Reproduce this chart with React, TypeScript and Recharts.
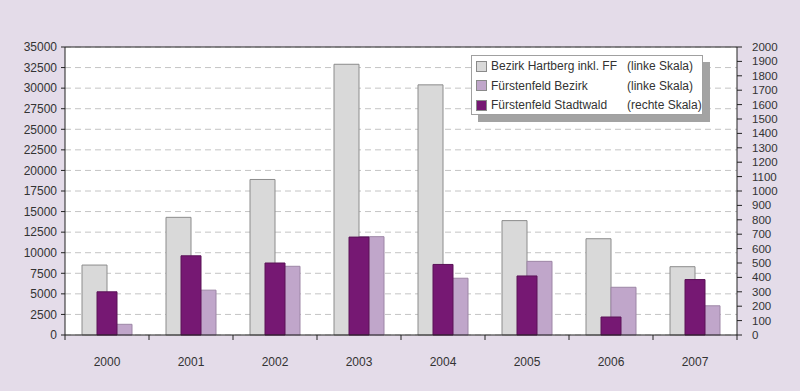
import React from 'react';
import { BarChart, Bar, XAxis, YAxis, CartesianGrid, Legend, ReferenceLine } from 'recharts';

const years = ['2000', '2001', '2002', '2003', '2004', '2005', '2006', '2007'];
const hartberg = [8500, 14300, 18900, 32900, 30400, 13900, 11700, 8300];
const fuerstenfeldBezirk = [1300, 5450, 8350, 11950, 6900, 8950, 5800, 3550];
const stadtwald = [300, 550, 500, 680, 490, 410, 125, 385];

const leftTicks = [0, 2500, 5000, 7500, 10000, 12500, 15000, 17500, 20000, 22500, 25000, 27500, 30000, 32500, 35000];
const rightTicks = [0, 100, 200, 300, 400, 500, 600, 700, 800, 900, 1000, 1100, 1200, 1300, 1400, 1500, 1600, 1700, 1800, 1900, 2000];

const seriesNames = ['Bezirk Hartberg inkl. FF', 'Fürstenfeld Bezirk', 'Fürstenfeld Stadtwald'];
const scaleNames = ['(linke Skala)', '(linke Skala)', '(rechte Skala)'];

const data = years.map((year, i) => ({
  year,
  hartberg: hartberg[i],
  bezirk: fuerstenfeldBezirk[i],
  stadtwald: stadtwald[i],
}));

const FONT = '"Liberation Sans", Arial, sans-serif';
const TEXT = '#333333';
const BAND = 84;
const X_TICK_OFFSET = 6 + 16; // tickSize + tickMargin

const XTick = (props: any) => {
  const { x, y, payload, index } = props;
  const axisY = y - X_TICK_OFFSET;
  return (
    <g>
      <line x1={x - BAND / 2} y1={axisY} x2={x - BAND / 2} y2={axisY + 5} stroke="#222" />
      {index === years.length - 1 && (
        <line x1={x + BAND / 2} y1={axisY} x2={x + BAND / 2} y2={axisY + 5} stroke="#222" />
      )}
      <text x={x} y={y} dy="0.71em" textAnchor="middle" fill={TEXT} fontSize={12} fontFamily={FONT}>
        {payload.value}
      </text>
    </g>
  );
};

const LegendBox = (props: any) => {
  const { payload } = props;
  return (
    <div style={{ position: 'relative', width: 232, height: 60 }}>
      <div style={{ position: 'absolute', left: 7, top: 7, width: 232, height: 60, background: '#a3a3a3' }} />
      <div
        style={{
          position: 'absolute',
          left: 0,
          top: 0,
          width: 230,
          height: 58,
          background: '#fff',
          border: '1px solid #a0a0a0',
          fontFamily: FONT,
          fontSize: 12,
          color: TEXT,
          whiteSpace: 'nowrap',
        }}
      >
        {(payload || []).map((entry: any, i: number) => (
          <div key={i} style={{ position: 'absolute', left: 4, top: 2 + i * 19.5, height: 16, display: 'flex', alignItems: 'center' }}>
            <span
              style={{
                display: 'inline-block',
                width: 9,
                height: 9,
                background: entry.color,
                border: '1px solid #8a8a8a',
                marginRight: 4,
              }}
            />
            <span style={{ display: 'inline-block', width: 136 }}>{seriesNames[i]}</span>
            <span>{scaleNames[i]}</span>
          </div>
        ))}
      </div>
    </div>
  );
};

const App = () => {
  return (
    <div style={{ position: 'absolute', left: 0, top: 0, width: 800, height: 391, background: '#e4dce9' }}>
      <BarChart
        width={800}
        height={391}
        data={data}
        margin={{ top: 47, right: 8, bottom: 26, left: 5 }}
        barGap={0}
        barCategoryGap="20%"
      >
        <CartesianGrid yAxisId="left" xAxisId="main" vertical={false} stroke="#c4c4c4" strokeDasharray="6 4" fill="#fff" />
        <XAxis
          xAxisId="main"
          dataKey="year"
          height={30}
          tickLine={false}
          axisLine={{ stroke: '#222' }}
          tick={<XTick />}
          tickSize={6}
          tickMargin={16}
          interval={0}
        />
        <XAxis xAxisId="over" dataKey="year" hide />
        <YAxis
          yAxisId="left"
          orientation="left"
          width={60}
          domain={[0, 35000]}
          ticks={leftTicks}
          interval={0}
          tickSize={4}
          tickMargin={4}
          tick={{ fill: TEXT, fontSize: 12, fontFamily: FONT }}
          axisLine={{ stroke: '#222' }}
          tickLine={{ stroke: '#222' }}
        />
        <YAxis
          yAxisId="right"
          orientation="right"
          width={55}
          domain={[0, 2000]}
          ticks={rightTicks}
          interval={0}
          tickSize={5}
          tickMargin={10}
          tick={{ fill: TEXT, fontSize: 11.5, fontFamily: FONT }}
          axisLine={{ stroke: '#222' }}
          tickLine={{ stroke: '#222' }}
        />
        <ReferenceLine yAxisId="left" xAxisId="main" y={35000} stroke="#222" />
        <Legend
          layout="horizontal"
          verticalAlign="middle"
          align="center"
          wrapperStyle={{ position: 'absolute', left: 471, top: 55, width: 240, height: 68 }}
          content={<LegendBox />}
        />
        <Bar
          xAxisId="main"
          yAxisId="left"
          dataKey="hartberg"
          name={seriesNames[0]}
          fill="#d9d9d9"
          stroke="#8c8c8c"
          barSize={25}
          isAnimationActive={false}
        />
        <Bar
          xAxisId="main"
          yAxisId="left"
          dataKey="bezirk"
          name={seriesNames[1]}
          fill="#c0a6ca"
          stroke="#9d86a6"
          barSize={25}
          isAnimationActive={false}
        />
        <Bar
          xAxisId="over"
          yAxisId="right"
          dataKey="stadtwald"
          name={seriesNames[2]}
          fill="#761873"
          stroke="#5a1257"
          barSize={20}
          isAnimationActive={false}
        />
      </BarChart>
    </div>
  );
};

export default App;
